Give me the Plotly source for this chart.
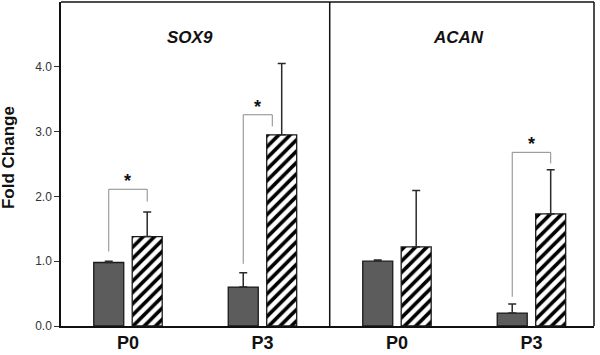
import plotly.graph_objects as go

# ---- data ----
categories = ["P0", "P3", "P0", "P3"]
genes = ["SOX9", "ACAN"]
ctrl_values = [0.98, 0.60, 1.00, 0.20]
ctrl_err = [0.02, 0.22, 0.02, 0.14]
treat_values = [1.38, 2.95, 1.22, 1.73]
treat_err = [0.38, 1.10, 0.87, 0.68]
y_ticks = [0.0, 1.0, 2.0, 3.0, 4.0]

# significance brackets: (category index, left bottom, top, right bottom, right x shift)
sig_idx = [0, 1, 3]
sig_left_bottom = [1.15, 0.96, 0.45]
sig_top = [2.11, 3.26, 2.68]
sig_right_bottom = [1.92, 3.08, 2.51]
sig_right_shift = [0.0, -0.07, -0.0]

# ---- layout constants ----
pos = list(range(len(categories)))
bar_w = 0.223
half_sep = 0.143
FONT = "Arial, Liberation Sans, sans-serif"

fig = go.Figure()
fig.add_trace(go.Bar(
    x=pos, y=ctrl_values, width=bar_w, offset=-half_sep - bar_w / 2,
    marker=dict(color="#5c5c5c", line=dict(color="#1a1a1a", width=1.3)),
    error_y=dict(type="data", symmetric=False, array=ctrl_err,
                 arrayminus=[0] * 4, color="#2a2a2a", thickness=1.5, width=4),
    showlegend=False,
))
fig.add_trace(go.Bar(
    x=pos, y=treat_values, width=bar_w, offset=half_sep - bar_w / 2,
    marker=dict(color="white", line=dict(color="#1a1a1a", width=1.3),
                pattern=dict(shape="/", fgcolor="#000000", bgcolor="white",
                             fgopacity=1, size=8, solidity=0.45)),
    error_y=dict(type="data", symmetric=False, array=treat_err,
                 arrayminus=[0] * 4, color="#2a2a2a", thickness=1.5, width=4),
    showlegend=False,
))

shapes = []
for i, lb, top, rb, sh in zip(sig_idx, sig_left_bottom, sig_top, sig_right_bottom, sig_right_shift):
    xl = pos[i] - half_sep
    xr = pos[i] + half_sep + sh
    shapes.append(dict(type="path", xref="x", yref="y",
                       path=f"M {xl},{lb} L {xl},{top} L {xr},{top} L {xr},{rb}",
                       line=dict(color="#8a8a8a", width=1)))
# panel divider, top and right borders
shapes.append(dict(type="line", xref="x", yref="paper", x0=1.5, x1=1.5, y0=0, y1=1,
                   line=dict(color="#111111", width=1.5)))
shapes.append(dict(type="line", xref="paper", yref="paper", x0=0, x1=1, y0=1, y1=1,
                   line=dict(color="#111111", width=1.5)))
shapes.append(dict(type="line", xref="paper", yref="paper", x0=1, x1=1, y0=0, y1=1,
                   line=dict(color="#111111", width=1.5)))

annotations = []
for i, top, sh in zip(sig_idx, sig_top, sig_right_shift):
    annotations.append(dict(x=pos[i] + sh / 2, y=top, xref="x", yref="y", text="<b>*</b>",
                            showarrow=False, yanchor="bottom", yshift=-4,
                            font=dict(family=FONT, size=18, color="#111111")))
for gi, g in enumerate(genes):
    annotations.append(dict(x=gi * 2 + 0.46, y=4.45, xref="x", yref="y",
                            text=f"<b><i>{g}</i></b>", showarrow=False,
                            font=dict(family=FONT, size=17, color="#111111")))
annotations.append(dict(x=0, y=2.6, xref="paper", yref="y", xanchor="center",
                        xshift=-52.5, text="<b>Fold Change</b>", showarrow=False,
                        textangle=-90, font=dict(family=FONT, size=17, color="#111111")))

fig.update_layout(
    width=600, height=355,
    margin=dict(l=61, r=6, t=2, b=29, autoexpand=False),
    plot_bgcolor="white", paper_bgcolor="white",
    barmode="overlay",
    shapes=shapes, annotations=annotations,
    font=dict(family=FONT),
)
fig.update_xaxes(
    range=[-0.498, 3.465], tickvals=pos, ticktext=[f"<b>{c}</b>" for c in categories],
    tickfont=dict(family=FONT, size=18, color="#111111"),
    ticklabelstandoff=0,
    showline=True, linecolor="#111111", linewidth=1.5, ticks="", showgrid=False,
    zeroline=False, automargin=False,
)
fig.update_yaxes(
    range=[0, 5.0], tickvals=y_ticks, ticktext=[f"{v:.1f}" for v in y_ticks],
    tickfont=dict(family=FONT, size=12, color="#333333"),
    ticks="outside", ticklen=5, tickcolor="#333333", tickwidth=1,
    showline=True, linecolor="#111111", linewidth=1.5, showgrid=False, zeroline=False,
    automargin=False,
)

fig.write_html("out.html", config={"displayModeBar": False},
               post_script="document.body.style.margin='0px';")
